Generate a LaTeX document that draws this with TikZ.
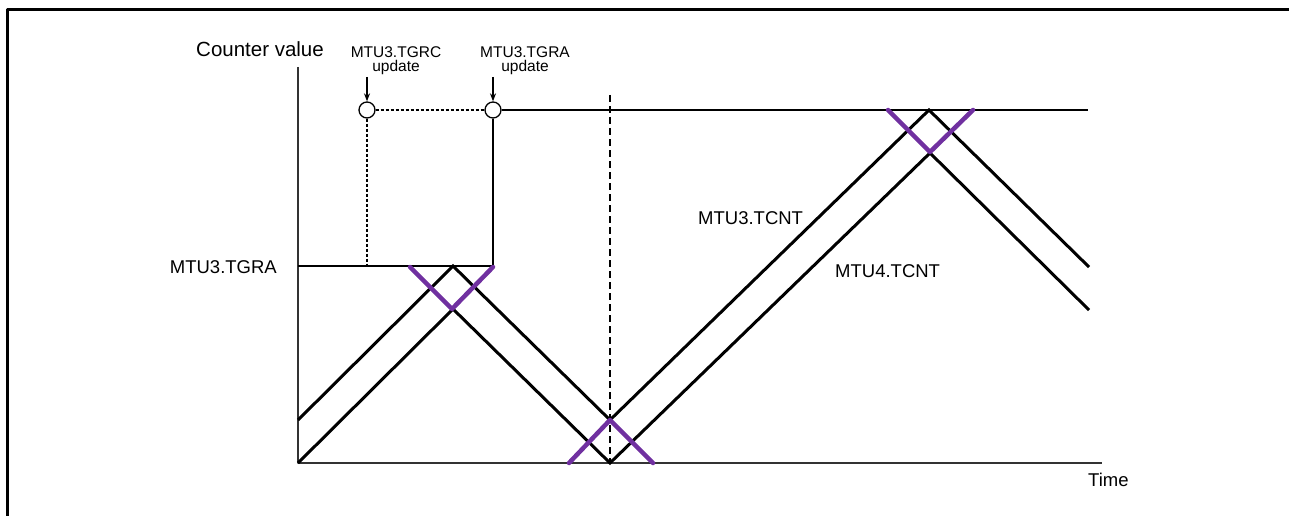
\documentclass[tikz,border=0pt]{standalone}
\usepackage{fontspec}
\setmainfont{Liberation Sans}
\usetikzlibrary{arrows.meta}
\definecolor{deadpurple}{HTML}{7030A0}

\begin{document}
\begin{tikzpicture}[
  x=1pt,
  y=-1pt,
  line join=round,
  frame/.style={draw=black,line width=3pt},
  axis/.style={draw=black!80,line width=1.6pt},
  counter/.style={draw=black,line width=3pt,line join=miter},
  deadtime/.style={draw=deadpurple,line width=4.5pt,line cap=round},
  level/.style={draw=black,line width=1.3pt},
  guide/.style={draw=black,line width=1.2pt,dash pattern=on 7pt off 4pt},
  dotguide/.style={draw=black,line width=1.2pt,dash pattern=on 3pt off 2pt},
  updatedot/.style={circle,draw=black,line width=1.3pt,fill=white,minimum size=16pt,inner sep=0pt},
  pointer/.style={draw=black,line width=1.3pt,-{Stealth[length=8pt,width=6pt]}},
  tag/.style={font=\fontsize{18.5}{20}\selectfont,inner sep=0pt},
  smalltag/.style={font=\fontsize{15.5}{14.5}\selectfont,align=center,inner sep=0pt,anchor=north}
]
  \useasboundingbox (0,0) rectangle (1289,516);

  % Outer frame, open on the right and at the bottom.
  \draw[frame] (7.5,516) -- (7.5,9.5) -- (1289,9.5);

  % Axes.
  \coordinate (O) at (298,463);
  \coordinate (yend) at (298,67);
  \coordinate (xend) at (1102,463);
  \draw[axis] (yend) -- (O) -- (xend);
  \node[tag,font=\fontsize{20.5}{22}\selectfont,anchor=base west] (cv) at (196,57) {Counter value};
  \node[tag,anchor=base west] (time) at (1088,486) {Time};

  % Buffer register updates.
  \node[updatedot] (tgrcdot) at (367,110) {};
  \node[updatedot] (tgradot) at (493,110) {};
  \node[smalltag] (tgrcnote) at (396,46) {MTU3.TGRC\\update};
  \node[smalltag] (tgranote) at (525,46) {MTU3.TGRA\\update};
  \coordinate (tgrcfrom) at (367,77);
  \coordinate (tgrafrom) at (493,77);
  \draw[pointer] (tgrcfrom) -- (tgrcdot);
  \draw[pointer] (tgrafrom) -- (tgradot);

  % Compare levels.
  \coordinate (tgrastart) at (298,266);
  \coordinate (tgrcfoot) at (367,266);
  \coordinate (tgrafoot) at (493,266);
  \coordinate (topend) at (1088,110);
  \node[tag,anchor=base east] (tgralevel) at (277,273) {MTU3.TGRA};
  \draw[dotguide] (tgrcdot) -- (tgradot);
  \draw[dotguide] (tgrcdot) -- (tgrcfoot);
  \draw[level] (tgradot) -- (topend);
  \draw[level] (tgradot) -- (tgrafoot);
  \draw[level] (tgrastart) -- (tgrafoot);

  % Trough where the new period takes effect.
  \coordinate (gtop) at (610,95);
  \coordinate (gbot) at (610,463);
  \draw[guide] (gtop) -- (gbot);

  % MTU3.TCNT and MTU4.TCNT.
  \draw[counter] (298,420) -- (453,266) -- (610,420) -- (929,110) -- (1089,267);
  \draw[counter] (298,463) -- (453,309) -- (610,463) -- (930,153) -- (1089,310);
  \node[tag,anchor=base west] (tcnt3) at (698,224) {MTU3.TCNT};
  \node[tag,anchor=base west] (tcnt4) at (835,277) {MTU4.TCNT};

  % Dead-time marks at the crests and the trough.
  \draw[deadtime] (410,267) -- (452,309) -- (493,267);
  \draw[deadtime] (569,463) -- (610,420) -- (653,463);
  \draw[deadtime] (888,110) -- (930,152) -- (973,110);
\end{tikzpicture}
\end{document}
